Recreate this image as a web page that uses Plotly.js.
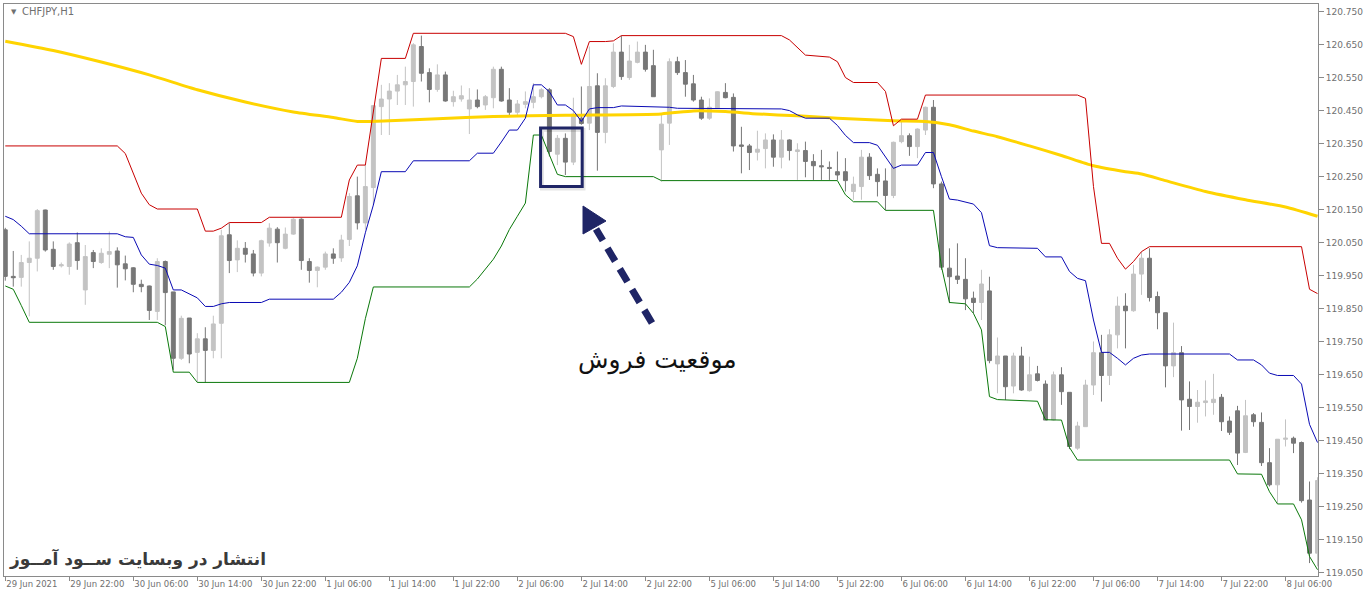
<!DOCTYPE html>
<html><head><meta charset="utf-8">
<script src="https://cdn.plot.ly/plotly-3.0.1.min.js"></script>
<style>html,body{margin:0;padding:0;background:#fff;}#chart{width:1364px;height:597px;}</style>
</head><body><div id="chart"></div>
<script>
// ---- candle data (hourly bars, index 0 = 29 Jun 14:00) ----
const barOpen = [120.089,119.948,119.945,119.990,120.003,120.149,120.030,119.980,119.978,120.050,
119.907,120.020,119.990,120.015,120.025,119.986,119.974,119.924,119.919,119.842,
119.993,119.901,119.700,119.822,119.718,119.759,119.724,119.806,120.074,119.998,
120.033,120.016,119.958,120.049,120.091,120.033,120.076,120.121,119.993,119.966,
119.976,120.016,120.004,120.060,120.192,120.110,120.217,120.462,120.485,120.509,
120.528,120.538,120.644,120.565,120.514,120.558,120.477,120.485,120.455,120.482,
120.467,120.489,120.575,120.482,120.445,120.469,120.475,120.492,120.513,120.318,
120.366,120.294,120.427,120.412,120.525,120.384,120.523,120.627,120.550,120.596,
120.627,120.586,120.331,120.412,120.598,120.565,120.531,120.482,120.427,120.457,
120.505,120.490,120.346,120.343,120.324,120.335,120.361,120.309,120.361,120.326,
120.329,120.296,120.283,120.278,120.265,120.265,120.205,120.220,120.309,120.257,
120.237,120.193,120.356,120.374,120.341,120.391,120.460,120.228,119.973,119.949,
119.939,119.882,119.869,119.904,119.683,119.707,119.616,119.707,119.602,119.653,
119.622,119.513,119.650,119.597,119.428,119.493,119.619,119.717,119.648,119.771,
119.858,119.844,119.955,120.003,119.887,119.838,119.677,119.717,119.576,119.554,
119.566,119.566,119.582,119.510,119.541,119.415,119.529,119.506,119.384,119.317,
119.455,119.458,119.445,119.271,119.110];
const barHigh = [120.095,120.025,120.013,120.054,120.152,120.150,120.054,119.990,120.051,120.081,
120.043,120.028,120.033,120.084,120.036,120.011,119.976,119.938,119.920,120.003,
119.996,119.901,119.829,119.822,119.776,119.794,119.829,120.089,120.109,120.057,
120.052,120.028,120.059,120.109,120.097,120.096,120.124,120.124,120.003,119.978,
120.023,120.033,120.074,120.200,120.250,120.285,120.465,120.528,120.533,120.558,
120.583,120.654,120.677,120.578,120.590,120.568,120.510,120.526,120.518,120.514,
120.497,120.583,120.583,120.518,120.482,120.508,120.533,120.518,120.518,120.376,
120.381,120.489,120.523,120.644,120.563,120.548,120.654,120.677,120.649,120.659,
120.649,120.634,120.437,120.608,120.613,120.603,120.558,120.492,120.487,120.508,
120.533,120.502,120.401,120.349,120.389,120.381,120.378,120.391,120.363,120.351,
120.356,120.318,120.331,120.296,120.326,120.306,120.250,120.331,120.321,120.275,
120.275,120.356,120.417,120.381,120.396,120.462,120.482,120.235,120.033,120.048,
120.003,119.902,119.968,119.947,119.763,119.707,119.717,119.735,119.705,119.677,
119.633,119.660,119.673,119.597,119.508,119.635,119.751,119.771,119.788,119.887,
119.897,119.983,120.023,120.033,119.902,119.838,119.808,119.737,119.630,119.604,
119.633,119.653,119.592,119.524,119.556,119.574,119.534,119.536,119.428,119.455,
119.515,119.463,119.448,119.327,119.340];
const barLow = [119.935,119.917,119.917,119.827,119.963,120.023,119.968,119.975,119.953,119.968,
119.862,119.973,119.986,119.973,119.914,119.936,119.900,119.900,119.816,119.816,
119.800,119.665,119.695,119.685,119.627,119.627,119.700,119.700,119.958,119.961,
119.990,119.948,119.948,120.038,119.990,120.030,120.074,119.968,119.929,119.915,
119.968,119.986,119.992,120.040,120.090,120.090,120.164,120.376,120.376,120.467,
120.467,120.462,120.538,120.475,120.507,120.477,120.462,120.477,120.379,120.457,
120.452,120.457,120.477,120.435,120.432,120.457,120.457,120.487,120.311,120.285,
120.255,120.285,120.407,120.391,120.268,120.351,120.518,120.543,120.543,120.593,
120.568,120.492,120.235,120.346,120.558,120.492,120.477,120.422,120.422,120.456,
120.487,120.326,120.260,120.270,120.299,120.275,120.280,120.275,120.299,120.240,
120.248,120.240,120.240,120.240,120.240,120.205,120.180,120.180,120.240,120.190,
120.149,120.185,120.351,120.313,120.306,120.376,120.215,119.968,119.867,119.925,
119.846,119.836,119.816,119.685,119.594,119.574,119.594,119.602,119.599,119.630,
119.513,119.511,119.559,119.425,119.423,119.493,119.589,119.569,119.619,119.730,
119.730,119.841,119.892,119.872,119.788,119.612,119.643,119.481,119.483,119.505,
119.524,119.529,119.480,119.468,119.377,119.413,119.493,119.374,119.312,119.261,
119.433,119.413,119.263,119.080,119.070];
const barClose = [119.948,119.944,119.990,120.003,120.147,120.028,119.978,119.983,120.046,119.996,
120.008,119.993,120.018,120.023,119.983,119.971,119.924,119.917,119.845,119.993,
119.899,119.700,119.821,119.713,119.759,119.724,119.804,120.071,119.996,120.033,
120.015,119.958,120.056,120.094,120.050,120.076,120.121,119.996,119.966,119.976,
120.016,120.003,120.058,120.190,120.110,120.220,120.465,120.485,120.509,120.528,
120.538,120.649,120.563,120.514,120.558,120.479,120.492,120.495,120.482,120.462,
120.492,120.575,120.479,120.445,120.470,120.477,120.492,120.513,120.326,120.366,
120.294,120.439,120.411,120.523,120.384,120.525,120.627,120.553,120.600,120.627,
120.575,120.492,120.409,120.598,120.565,120.530,120.482,120.427,120.460,120.507,
120.489,120.343,120.342,120.323,120.333,120.361,120.309,120.361,120.329,120.331,
120.296,120.283,120.280,120.275,120.255,120.238,120.227,120.309,120.253,120.235,
120.193,120.354,120.374,120.341,120.394,120.460,120.228,119.976,119.947,119.939,
119.880,119.869,119.925,119.693,119.707,119.614,119.707,119.604,119.650,119.633,
119.513,119.650,119.599,119.433,119.495,119.619,119.717,119.648,119.771,119.858,
119.844,119.955,120.003,119.884,119.838,119.677,119.717,119.574,119.554,119.567,
119.571,119.576,119.508,119.476,119.413,119.526,119.508,119.384,119.317,119.455,
119.458,119.443,119.269,119.110,119.330];

// ---- channel lines (bar index -> price, vertices) ----
const upperIdx = [0,14,15,16,17,18,19,24,25,26,27,28,32,33,42,43,44,45,46,47,50,51,70,71,72,73,75,76,77,97,98,99,100,103,104,105,106,109,110,111,112,114,115,134,135,136,137,138,139,140,141,142,143,162,163,164];
const upperVal = [120.343,120.343,120.32,120.26,120.20,120.165,120.152,120.152,120.085,120.085,120.094,120.111,120.111,120.127,120.127,120.24,120.285,120.285,120.45,120.608,120.608,120.684,120.684,120.674,120.590,120.659,120.659,120.661,120.677,120.677,120.664,120.64,120.618,120.612,120.598,120.55,120.535,120.535,120.508,120.404,120.424,120.424,120.497,120.497,120.487,120.22,120.048,120.048,120.003,119.970,119.993,120.023,120.038,120.038,119.909,119.896];
const middleIdx = [0,1,2,3,14,15,16,17,18,19,20,21,22,23,24,25,26,27,28,32,33,41,42,43,44,45,46,47,50,51,58,59,61,62,63,64,65,66,67,68,69,70,71,72,73,74,76,77,83,84,96,97,98,99,100,103,104,105,106,108,109,110,111,112,114,115,116,117,118,119,120,121,122,123,124,128,129,130,132,133,134,135,136,137,138,139,140,141,142,143,153,154,156,157,158,159,161,162,163,164];
const middleVal = [120.130,120.120,120.100,120.077,120.077,120.068,120.066,120.013,119.985,119.981,119.973,119.907,119.907,119.895,119.883,119.857,119.857,119.865,119.869,119.869,119.879,119.879,119.90,119.93,119.98,120.08,120.164,120.265,120.265,120.298,120.298,120.321,120.321,120.355,120.391,120.391,120.427,120.528,120.528,120.507,120.467,120.467,120.45,120.417,120.455,120.459,120.459,120.464,120.46,120.457,120.457,120.455,120.450,120.437,120.427,120.427,120.405,120.375,120.353,120.353,120.345,120.31,120.275,120.285,120.285,120.323,120.323,120.250,120.182,120.179,120.172,120.167,120.141,120.041,120.035,120.035,120.033,120.007,120.007,119.963,119.942,119.935,119.816,119.718,119.718,119.700,119.680,119.700,119.710,119.713,119.713,119.695,119.695,119.680,119.655,119.648,119.648,119.622,119.500,119.445];
const lowerIdx = [0,1,2,3,19,20,21,23,24,43,44,45,46,58,59,60,61,62,63,64,65,66,67,68,69,70,81,82,104,105,106,109,110,116,117,118,120,121,122,123,124,129,130,132,133,134,153,154,157,158,159,161,162,163,164];
const lowerVal = [119.919,119.909,119.86,119.809,119.809,119.796,119.658,119.658,119.627,119.627,119.70,119.82,119.916,119.916,119.94,119.97,120.00,120.04,120.09,120.13,120.17,120.376,120.376,120.316,120.257,120.250,120.250,120.238,120.238,120.195,120.174,120.174,120.148,120.148,119.978,119.869,119.865,119.836,119.786,119.584,119.575,119.570,119.514,119.513,119.430,119.392,119.392,119.350,119.349,119.296,119.259,119.259,119.211,119.100,119.060];
const maIdx = [0,6,12,18,24,30,36,41,44,48,54,61,70,82,86,90,94,99,104,111,115,118,121,124,128,132,136,140,142,145,150,155,160,164];
const maVal = [120.660,120.632,120.597,120.558,120.513,120.476,120.446,120.429,120.417,120.419,120.425,120.432,120.436,120.440,120.449,120.447,120.440,120.434,120.427,120.419,120.417,120.407,120.388,120.371,120.343,120.314,120.283,120.265,120.258,120.238,120.205,120.180,120.158,120.130];

// ---- axis labels ----
const timeTickIdx = [0,8,16,24,32,40,48,56,64,72,80,88,96,104,112,120,128,136,144,152,160];
const timeTickText = ['29 Jun 2021','29 Jun 22:00','30 Jun 06:00','30 Jun 14:00','30 Jun 22:00','1 Jul 06:00','1 Jul 14:00','1 Jul 22:00','2 Jul 06:00','2 Jul 14:00','2 Jul 22:00','5 Jul 06:00','5 Jul 14:00','5 Jul 22:00','6 Jul 06:00','6 Jul 14:00','6 Jul 22:00','7 Jul 06:00','7 Jul 14:00','7 Jul 22:00','8 Jul 06:00'];
const priceTicks = [119.050,119.150,119.250,119.350,119.450,119.550,119.650,119.750,119.850,119.950,120.050,120.150,120.250,120.350,120.450,120.550,120.650,120.750];
const priceTickText = priceTicks.map(v => v.toFixed(3));

const symbolLabel = 'CHFJPY,H1';
const signalLabel = 'موقعیت فروش';
const watermark = 'انتشار در وبسایت ســود آمــوز';

const barIdx = barOpen.map((_, i) => i);

const traces = [
  {type:'candlestick', x:barIdx, open:barOpen, high:barHigh, low:barLow, close:barClose,
   increasing:{line:{color:'#c3c3c3', width:1}, fillcolor:'#c3c3c3'},
   decreasing:{line:{color:'#777777', width:1}, fillcolor:'#777777'},
   whiskerwidth:0, hoverinfo:'skip', showlegend:false},
  {type:'scatter', mode:'lines', x:maIdx, y:maVal, line:{color:'#ffd400', width:3, shape:'spline', smoothing:0.6}, hoverinfo:'skip', showlegend:false},
  {type:'scatter', mode:'lines', x:upperIdx, y:upperVal, line:{color:'#c80000', width:1}, hoverinfo:'skip', showlegend:false},
  {type:'scatter', mode:'lines', x:middleIdx, y:middleVal, line:{color:'#0a0ab4', width:1}, hoverinfo:'skip', showlegend:false},
  {type:'scatter', mode:'lines', x:lowerIdx, y:lowerVal, line:{color:'#0a780a', width:1}, hoverinfo:'skip', showlegend:false}
];

// pixel helpers for decorations (plot area: x 4..1318, y 4..576)
const PX = px => (px - 4) / 1314;
const PY = py => (576 - py) / 572;
const navy = '#1f2566';

const layout = {
  width:1364, height:597,
  margin:{l:4, r:46, t:4, b:21, pad:0},
  paper_bgcolor:'#ffffff', plot_bgcolor:'#ffffff',
  showlegend:false, dragmode:false,
  xaxis:{range:[-0.16,164.06], showgrid:false, zeroline:false, showline:true, mirror:true,
    linecolor:'#8a8a8a', linewidth:1, ticks:'outside', ticklen:4, tickcolor:'#8a8a8a',
    tickvals:timeTickIdx, ticktext:timeTickText, ticklabelposition:'outside right', tickangle:0,
    tickfont:{family:'DejaVu Sans', size:8.5, color:'#707070'}, rangeslider:{visible:false}, fixedrange:true, automargin:false},
  yaxis:{range:[119.0409,120.7727], side:'right', showgrid:false, zeroline:false, showline:true, mirror:true,
    linecolor:'#8a8a8a', linewidth:1, ticks:'outside', ticklen:5, tickcolor:'#8a8a8a',
    tickvals:priceTicks, ticktext:priceTickText,
    tickfont:{family:'DejaVu Sans', size:9, color:'#707070'}, fixedrange:true, automargin:false},
  shapes:[
    {type:'rect', xref:'paper', yref:'paper', x0:PX(542), x1:PX(583.5), y0:PY(188.5), y1:PY(130),
     line:{color:'rgba(0,0,0,0.10)', width:4}},
    {type:'rect', xref:'x', yref:'y', x0:66.9, x1:72.1, y0:120.220, y1:120.397,
     line:{color:navy, width:3}},
    {type:'line', xref:'paper', yref:'paper', x0:PX(652), y0:PY(323), x1:PX(596), y1:PY(229),
     line:{color:navy, width:7, dash:'15px,9px'}},
    {type:'path', xref:'paper', yref:'paper', fillcolor:navy, line:{color:navy, width:1},
     path:'M '+PX(583)+' '+PY(206)+' L '+PX(606)+' '+PY(221)+' L '+PX(583)+' '+PY(234)+' Z'}
  ],
  annotations:[
    {xref:'paper', yref:'paper', x:PX(9), y:PY(12), xanchor:'left', yanchor:'middle', showarrow:false,
     text:'▼', font:{family:'DejaVu Sans', size:7, color:'#707070'}},
    {xref:'paper', yref:'paper', x:PX(20), y:PY(12), xanchor:'left', yanchor:'middle', showarrow:false,
     text:symbolLabel, font:{family:'DejaVu Sans', size:10, color:'#707070'}},
    {xref:'paper', yref:'paper', x:PX(657), y:PY(360), xanchor:'center', yanchor:'middle', showarrow:false,
     text:signalLabel, font:{family:'DejaVu Sans', size:25, color:'#111111'}},
    {xref:'paper', yref:'paper', x:PX(137), y:PY(559), xanchor:'center', yanchor:'middle', showarrow:false,
     text:'<b>'+watermark+'</b>', font:{family:'DejaVu Sans', size:17, color:'#3a3a3a'}}
  ]
};

Plotly.newPlot('chart', traces, layout, {staticPlot:true, displayModeBar:false});
</script>
</body></html>
